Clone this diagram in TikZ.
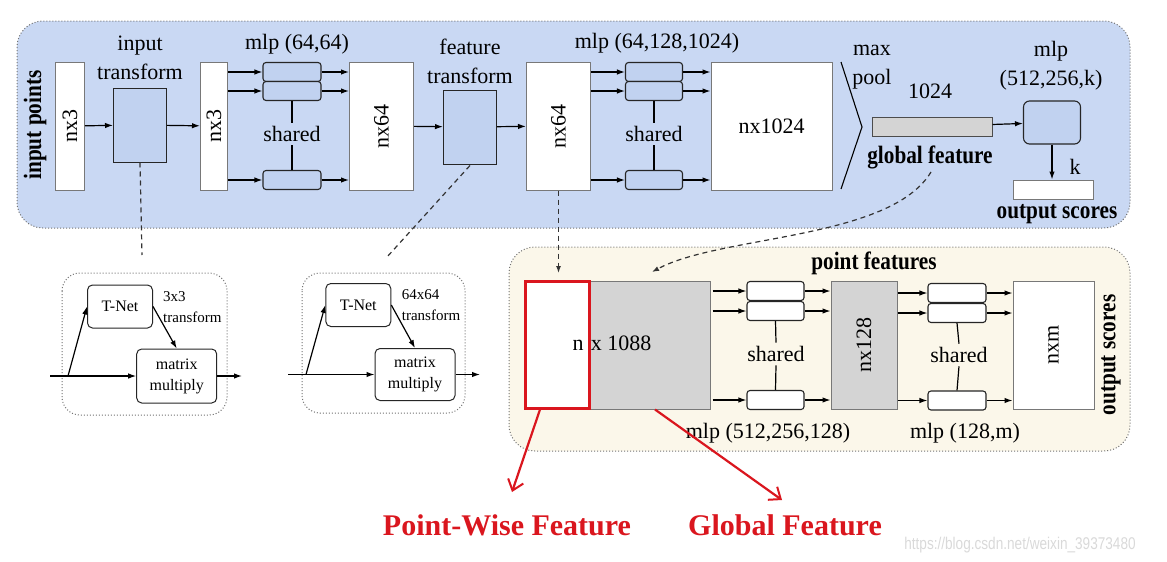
\documentclass[tikz,border=0pt]{standalone}
\usepackage{fontspec}
\setmainfont{Liberation Serif}
\newfontfamily\lblfont{Liberation Serif}[FakeStretch=0.85]
\newfontfamily\redfont{Liberation Serif}
\newfontfamily\wmfont{Liberation Sans}[FakeStretch=0.8]
\usetikzlibrary{arrows.meta,positioning,calc}
\definecolor{bluebg}{RGB}{201,216,243}
\definecolor{bluebox}{RGB}{193,210,240}
\definecolor{beigebg}{RGB}{251,247,234}
\definecolor{featgray}{RGB}{212,212,212}
\definecolor{edgegray}{RGB}{120,120,120}
\definecolor{ptred}{RGB}{218,22,30}

\begin{document}
\begin{tikzpicture}[x=1pt, y=-1pt, font=\fontsize{22}{29}\selectfont,
    featbase/.style={draw=edgegray, line width=1pt, fill=white, inner sep=0pt},
    vfeat/.style={featbase, rotate=90, minimum width=128pt, minimum height=#1},
    hfeat/.style={featbase, minimum height=128pt, minimum width=#1},
    layer/.style={draw=black!85, line width=1.1pt, rounded corners=3pt, fill=bluebox,
      minimum width=58pt, minimum height=19pt, inner sep=0pt},
    tbox/.style={draw=black!85, line width=1pt, fill=bluebox, minimum width=53pt,
      minimum height=74pt, inner sep=0pt},
    tnet/.style={draw=black!85, line width=1pt, rounded corners=5pt, fill=white,
      font=\fontsize{16}{21}\selectfont, align=center, inner sep=0pt},
    small/.style={font=\fontsize{15}{21}\selectfont, align=left, inner sep=0pt},
    bold/.style={font=\fontsize{25}{29}\lblfont\bfseries},
    flow/.style={-{Latex[length=8pt,width=5.5pt]}, line width=1.2pt},
    dashlink/.style={dashed, dash pattern=on 5pt off 4pt, line width=1.2pt, black!80},
    bgbox/.style={dotted, line width=1pt, draw=black!55, rounded corners=26pt},
    redarrow/.style={-{Straight Barb[length=10pt,width=16pt,line width=2pt]}, line width=2.2pt, ptred}
  ]
  \useasboundingbox (0,0) rectangle (1167,562);

  % backgrounds
  \draw [bgbox, fill=bluebg] (17,21) rectangle (1130,228);
  \draw [bgbox, fill=beigebg] (509,247) rectangle (1130,451);
  \draw [bgbox, fill=white, rounded corners=18pt] (62,273) rectangle (227,415);
  \draw [bgbox, fill=white, rounded corners=18pt] (302,273) rectangle (465,413);

  % classification network
  \node [rotate=90, bold] (inpts) at (35,125) {input points};
  \node [vfeat=29pt] (nxa) at (70,126) {nx3};
  \node [tbox] (itf) at (140,125) {};
  \node [align=center] (itflbl) at (140,58) {input\\transform};
  \node [vfeat=27pt] (nxb) at (214,126) {nx3};

  \node [layer] (la1) at (292,72) {};
  \node [layer] (la2) at (292,91) {};
  \node [layer] (la3) at (292,180) {};
  \node (sha) at (292,134) {shared};
  \node (mlpa) at (297,44) {mlp (64,64)};

  \node [vfeat=64pt] (nxc) at (381.5,126) {nx64};
  \node [tbox] (ftf) at (470,127) {};
  \node [align=center] (ftflbl) at (470,61) {feature\\transform};
  \node [vfeat=64pt] (nxd) at (558.5,126) {nx64};

  \node [layer, minimum width=57pt] (lb1) at (654,72) {};
  \node [layer, minimum width=57pt] (lb2) at (654,91) {};
  \node [layer, minimum width=57pt] (lb3) at (654,180) {};
  \node (shb) at (654,134) {shared};
  \node (mlpb) at (657,43) {mlp (64,128,1024)};

  \node [hfeat=121pt] (nxe) at (771.5,126) {nx1024};
  \draw [line width=1.1pt] (841,62) -- (862,127) -- (841,189);
  \node [align=center] (mp) at (872,67) {max\\pool};
  \node (gdim) at (930,91) {1024};
  \node [draw=black!70, line width=1pt, fill=featgray, minimum width=120pt, minimum height=19pt,
    inner sep=0pt] (gfeat) at (932,126.5) {};
  \node [bold] (gflbl) at (930,157) {global feature};
  \node [layer, minimum width=57pt, minimum height=43pt, rounded corners=6pt] (mlpc) at (1052,122.5) {};
  \node [align=center] (mlpclbl) at (1051,66) {mlp\\(512,256,k)};
  \node [featbase, minimum width=80pt, minimum height=19pt] (outa) at (1053,189.5) {};
  \node (klbl) at (1075,167) {k};
  \node [bold] (outlbl) at (1057,214) {output scores};

  \foreach \a/\b in {nxa/itf, itf/nxb, nxc/ftf, ftf/nxd, gfeat/mlpc}
    \draw [flow] (\a) -- (\b);
  \foreach \l in {la1,la2,la3}
    \draw [flow] (nxb.south |- \l) -- (\l.west);
  \foreach \l in {la1,la2,la3}
    \draw [flow] (\l.east) -- (nxc.north |- \l);
  \foreach \l in {lb1,lb2,lb3}
    \draw [flow] (nxd.south |- \l) -- (\l.west);
  \foreach \l in {lb1,lb2,lb3}
    \draw [flow] (\l.east) -- (nxe.west |- \l);
  \draw [line width=1.2pt] (la2.south) -- (sha.north) (sha.south) -- (la3.north);
  \draw [line width=1.2pt] (lb2.south) -- (shb.north) (shb.south) -- (lb3.north);
  \draw [flow] (mlpc.south) -- (mlpc.south |- outa.north);

  % transform nets
  \node [tnet, minimum width=65pt, minimum height=43pt] (tna) at (120,306.5) {T-Net};
  \node [small] (tfa) at (163,307) [anchor=west] {3x3\\transform};
  \node [tnet, minimum width=80pt, minimum height=54pt] (mma) at (176.7,376) {matrix\\multiply};
  \coordinate (ina) at (50,376);
  \coordinate (bra) at (68,376);
  \coordinate (outb) at (242,376);
  \draw [flow] (ina) -- (mma.west);
  \draw [flow] (bra) -- (tna.west);
  \draw [flow] (tna.east) -- (mma.north);
  \draw [flow] (mma.east) -- (outb);

  \node [tnet, minimum width=65pt, minimum height=43pt] (tnb) at (358.3,305) {T-Net};
  \node [small] (tfb) at (401.7,305) [anchor=west] {64x64\\transform};
  \node [tnet, minimum width=80pt, minimum height=52pt] (mmb) at (415,374.5) {matrix\\multiply};
  \coordinate (inc) at (288,374.5);
  \coordinate (brb) at (306,374.5);
  \coordinate (outc) at (480,374.5);
  \draw [flow] (inc) -- (mmb.west);
  \draw [flow] (brb) -- (tnb.west);
  \draw [flow] (tnb.east) -- (mmb.north);
  \draw [flow] (mmb.east) -- (outc);

  \coordinate (itfend) at (142,255);
  \coordinate (ftfend) at (387,257);
  \draw [dashlink] (itf.south) -- (itfend);
  \draw [dashlink] ($(ftf.south)+(0,1)$) -- (ftfend);

  % segmentation network
  \node [bold] (ptlbl) at (874,263) {point features};
  \node [featbase, fill=featgray, minimum width=186pt, minimum height=128pt] (nxf) at (617,345) {};
  \node [draw=ptred, line width=3pt, fill=white, minimum width=64pt, minimum height=127pt,
    inner sep=0pt] (pwbox) at (557,344.5) {};
  \node (nxflbl) at (612,343) {n\,\,x 1088};

  \node [layer, fill=white, minimum width=57pt] (lc1) at (775.5,291) {};
  \node [layer, fill=white, minimum width=57pt] (lc2) at (775.5,311) {};
  \node [layer, fill=white, minimum width=57pt] (lc3) at (775.5,400) {};
  \node (shc) at (776,354) {shared};
  \node [vfeat=66pt, fill=featgray] (nxg) at (864,345) {nx128};
  \node [layer, fill=white] (ld1) at (957,293) {};
  \node [layer, fill=white] (ld2) at (957,313) {};
  \node [layer, fill=white] (ld3) at (957,400.5) {};
  \node (shd) at (959,355) {shared};
  \node [vfeat=81pt] (nxh) at (1053.5,345) {nxm};
  \node [rotate=90, bold] (outlblb) at (1111,355) {output scores};
  \node (mlpd) at (768,433) {mlp (512,256,128)};
  \node (mlpe) at (965,433) {mlp (128,m)};

  \foreach \l in {lc1,lc2,lc3}
    \draw [flow] ($(nxf.east |- \l)+(2,0)$) -- (\l.west);
  \foreach \l in {lc1,lc2,lc3}
    \draw [flow] (\l.east) -- (nxg.north |- \l);
  \foreach \l in {ld1,ld2,ld3}
    \draw [flow] (nxg.south |- \l) -- (\l.west);
  \foreach \l in {ld1,ld2,ld3}
    \draw [flow] (\l.east) -- (nxh.north |- \l);
  \draw [line width=1.2pt] (lc2.south) -- (shc.north) (shc.south) -- (lc3.north);
  \draw [line width=1.2pt] (ld2.south) -- (shd.north) (shd.south) -- (ld3.north);

  \coordinate (nxdend) at (558.5,273);
  \draw [dashlink, -{Latex[length=7pt,width=5pt]}] (nxd.west) -- (nxdend);
  \draw [dashlink, -{Latex[length=7pt,width=5pt]}] (931,172) .. controls (890,240) and (720,235) .. (652,272);

  % highlighted features
  \coordinate (pwtip) at (512,492);
  \coordinate (gftip) at (782,500);
  \draw [redarrow] ($(pwbox.south)+(-17,0)$) -- (pwtip);
  \draw [redarrow] ($(nxf.south)+(38,0)$) -- (gftip);
  \node [ptred, font=\fontsize{30}{36}\redfont\bfseries] (pwlbl) at (507,525) {Point-Wise Feature};
  \node [ptred, font=\fontsize{30}{36}\redfont\bfseries] (gflbl2) at (785,525) {Global Feature};
  \node [black!15, font=\fontsize{17}{20}\wmfont] (wm) at (1020,545) {https://blog.csdn.net/weixin\_39373480};
\end{tikzpicture}
\end{document}
